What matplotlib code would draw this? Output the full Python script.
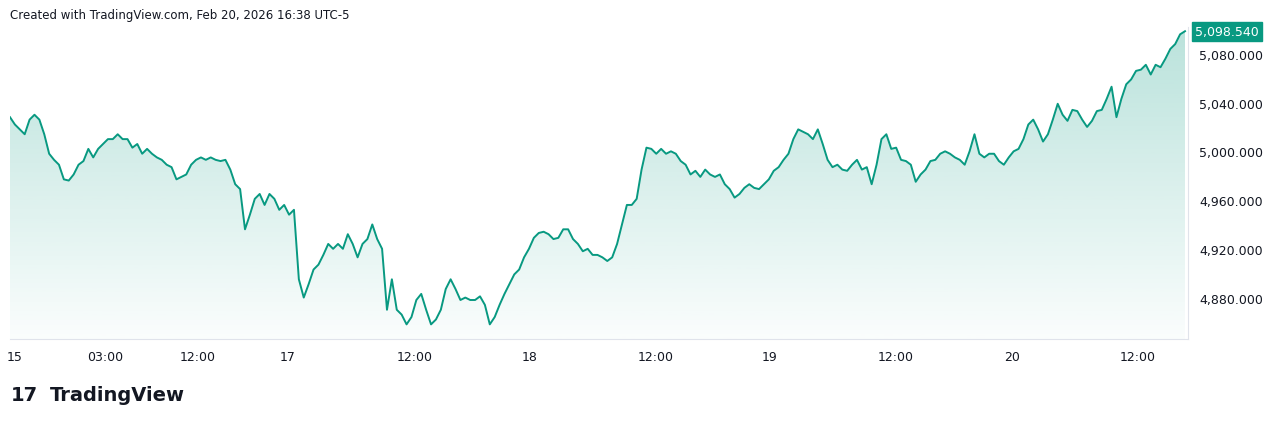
import matplotlib.pyplot as plt
import numpy as np
from matplotlib.patches import Polygon

prices = [5028, 5022, 5018, 5014, 5026, 5030, 5026, 5014, 4998, 4993, 4989, 4977, 4976, 4981, 4989, 4992,
          5002, 4995, 5002, 5006, 5010, 5010, 5014, 5010, 5010, 5003, 5006, 4998, 5002, 4998, 4995, 4993,
          4989, 4987, 4977, 4979, 4981, 4989, 4993, 4995, 4993, 4995, 4993, 4992, 4993, 4985, 4973, 4969,
          4936, 4948, 4961, 4965, 4956, 4965, 4961, 4952, 4956, 4948, 4952, 4895, 4880, 4891, 4903, 4907,
          4915, 4924, 4920, 4924, 4920, 4932, 4924, 4913, 4924, 4928, 4940, 4928, 4920, 4870, 4895, 4870,
          4866, 4858, 4864, 4878, 4883, 4870, 4858, 4862, 4870, 4887, 4895, 4887, 4878, 4880, 4878, 4878,
          4881, 4874, 4858, 4864, 4874, 4883, 4891, 4899, 4903, 4913, 4920, 4929, 4933, 4934, 4932, 4928,
          4929, 4936, 4936, 4928, 4924, 4918, 4920, 4915, 4915, 4913, 4910, 4913, 4924, 4940, 4956, 4956,
          4961, 4985, 5003, 5002, 4998, 5002, 4998, 5000, 4998, 4992, 4989, 4981, 4984, 4979, 4985, 4981,
          4979, 4981, 4973, 4969, 4962, 4965, 4970, 4973, 4970, 4969, 4973, 4977, 4984, 4987, 4993, 4998,
          5010, 5018, 5016, 5014, 5010, 5018, 5006, 4993, 4987, 4989, 4985, 4984, 4989, 4993, 4985, 4987,
          4973, 4989, 5010, 5014, 5002, 5003, 4993, 4992, 4989, 4975, 4981, 4985, 4992, 4993, 4998, 5000,
          4998, 4995, 4993, 4989, 5000, 5014, 4998, 4995, 4998, 4998, 4992, 4989, 4995, 5000, 5002, 5010,
          5022, 5026, 5018, 5008, 5014, 5026, 5039, 5030, 5025, 5034, 5033, 5026, 5020, 5025, 5033, 5034,
          5043, 5053, 5028, 5043, 5055, 5059, 5066, 5067, 5071, 5063, 5071, 5069, 5076, 5084, 5088, 5096,
          5098.54]
tick_pos = [15, 105, 198, 288, 415, 530, 656, 770, 896, 1012, 1138]
tick_labels = ['15', '03:00', '12:00', '17', '12:00', '18', '12:00', '19', '12:00', '20', '12:00']
y_ticks = [4880, 4920, 4960, 5000, 5040, 5080]
last_price = 5098.54

teal = '#089981'
W, H = 1280, 427
fig = plt.figure(figsize=(12.8, 4.27), dpi=100)
ax = fig.add_axes([10 / W, 1 - 340 / H, 1178 / W, 312 / H])
x = np.linspace(10, 1185, len(prices))
ylo, yhi = 4846, 5102
ax.set_xlim(10, 1188)
ax.set_ylim(ylo, yhi)

# gradient fill under the line
grad = np.linspace(0, 1, 256).reshape(-1, 1)
img = np.zeros((256, 1, 4))
img[..., 0], img[..., 1], img[..., 2] = 8 / 255, 153 / 255, 129 / 255
img[..., 3] = 0.02 + 0.26 * grad[::-1]
im = ax.imshow(img, extent=[10, 1188, ylo, max(prices)], origin='upper', aspect='auto', zorder=1)
poly = Polygon(np.column_stack([np.r_[x, x[-1], x[0]], np.r_[prices, ylo, ylo]]),
               closed=True, transform=ax.transData, facecolor='none', edgecolor='none')
ax.add_patch(poly)
im.set_clip_path(poly)
ax.plot(x, prices, color=teal, lw=1.4, zorder=3)

ax.set_xticks(tick_pos)
ax.set_xticklabels(tick_labels)
ax.yaxis.tick_right()
ax.set_yticks(y_ticks)
ax.set_yticklabels([f'{v:,.3f}' for v in y_ticks])
ax.tick_params(length=0, labelsize=9, colors='#131722', pad=8)
for s in ax.spines.values():
    s.set_color('#e0e3eb')
ax.spines['left'].set_visible(False)
ax.spines['top'].set_visible(False)

ax.text(1.006, last_price, f'{last_price:,.3f}', transform=ax.get_yaxis_transform(),
        va='center', ha='left', fontsize=9, color='white',
        bbox=dict(boxstyle='square,pad=0.25', fc=teal, ec=teal), zorder=5)

fig.text(10 / W, 1 - 16 / H, 'Created with TradingView.com, Feb 20, 2026 16:38 UTC-5',
         fontsize=8.5, color='#131722', va='center')
fig.text(11 / W, 1 - 396 / H, '17', fontsize=14, fontweight='bold', color='#131722', va='center')
fig.text(50 / W, 1 - 396 / H, 'TradingView', fontsize=14, fontweight='bold', color='#131722', va='center')

fig.savefig('out.png', dpi=100)
